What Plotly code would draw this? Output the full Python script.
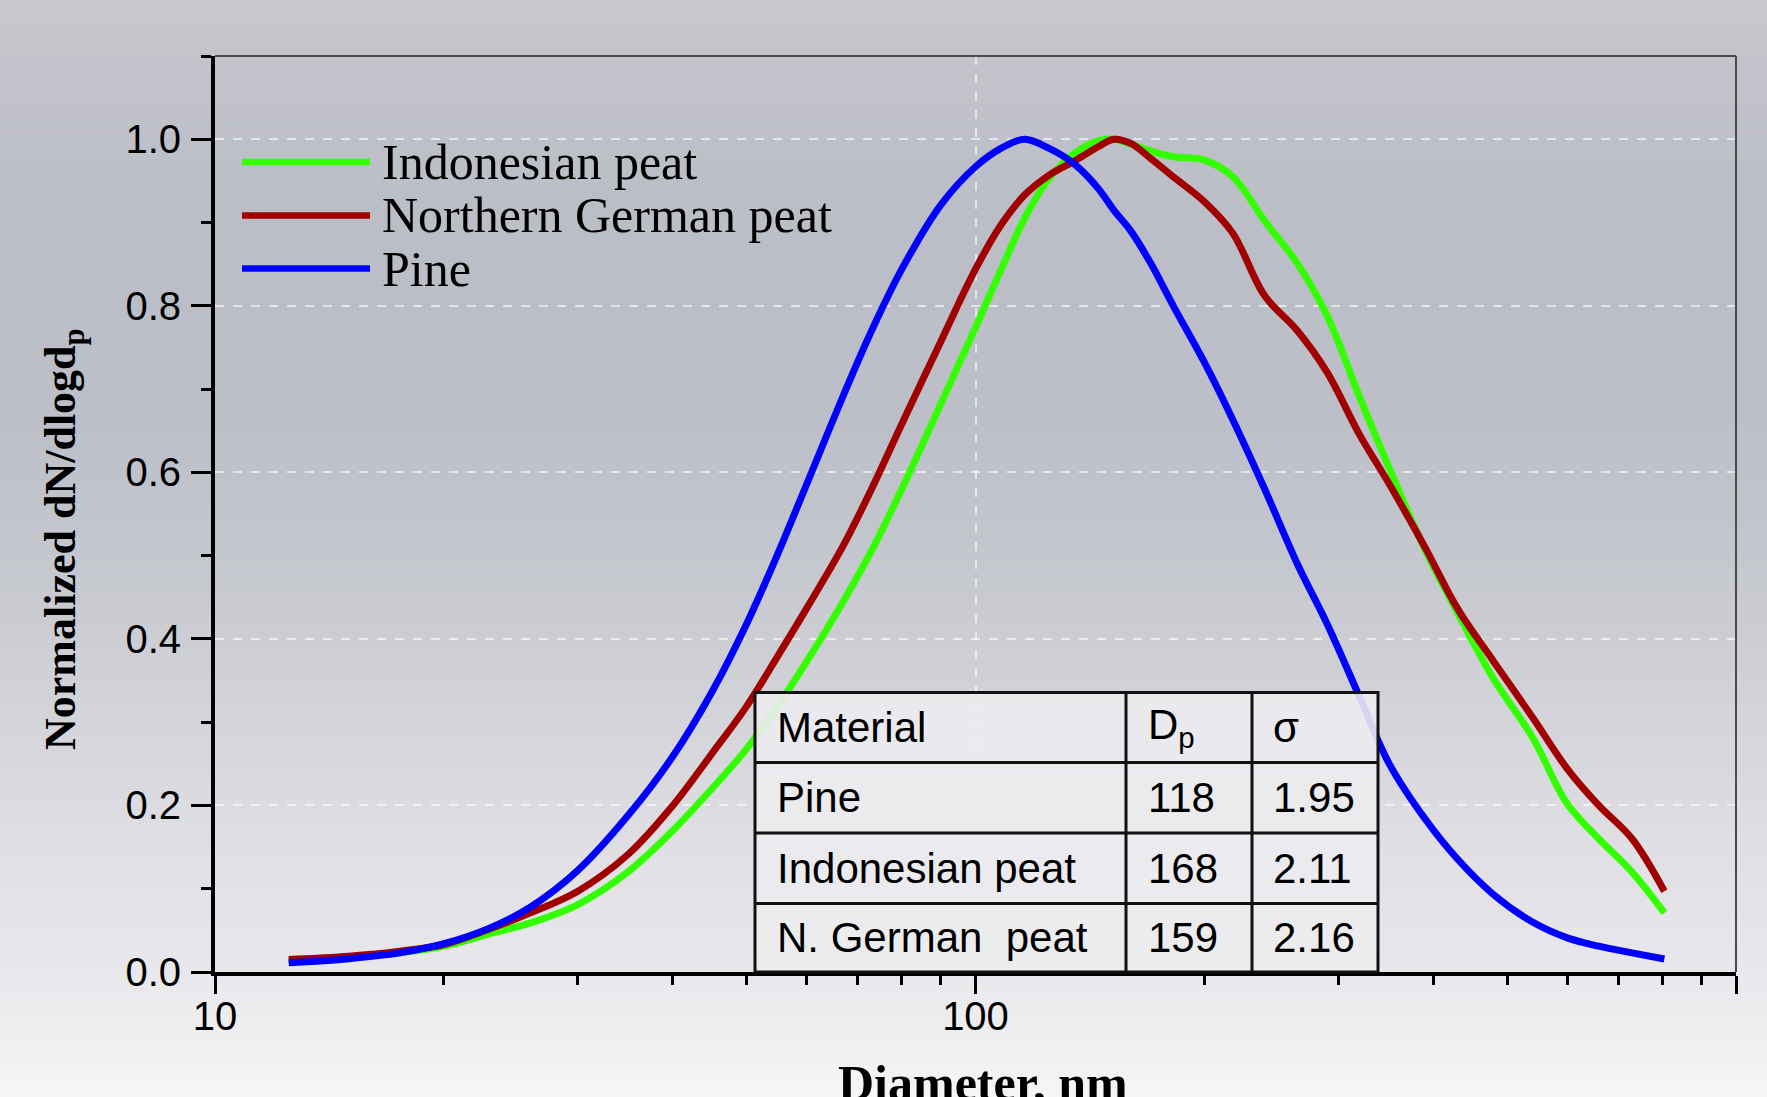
import base64
import struct
import zlib

import plotly.graph_objects as go

# ---------------------------------------------------------------------------
# Size distributions (normalized dN/dlogDp) on a common diameter grid
# ---------------------------------------------------------------------------
diameter_nm = [12.5, 15, 17.5, 20, 23, 26, 30, 35, 40, 45,
               50, 55, 60, 67, 73, 80, 90, 100, 108, 116,
               125, 135, 145, 152, 160, 170, 182, 200, 218, 240,
               265, 290, 320, 350, 390, 430, 480, 540, 600, 660,
               730, 805]

indonesian_peat = [0.015, 0.018, 0.023, 0.031, 0.046, 0.059, 0.081, 0.121, 0.170, 0.220,
                   0.268, 0.320, 0.373, 0.445, 0.506, 0.580, 0.682, 0.774, 0.843, 0.905,
                   0.953, 0.983, 0.998, 1.000, 0.994, 0.986, 0.979, 0.975, 0.955, 0.902,
                   0.851, 0.788, 0.690, 0.605, 0.507, 0.432, 0.352, 0.282, 0.202, 0.160,
                   0.120, 0.071]

northern_german_peat = [0.015, 0.019, 0.025, 0.033, 0.052, 0.071, 0.097, 0.142, 0.200, 0.262,
                        0.319, 0.380, 0.437, 0.512, 0.580, 0.658, 0.757, 0.844, 0.897, 0.933,
                        0.957, 0.974, 0.991, 1.000, 0.995, 0.977, 0.955, 0.925, 0.887, 0.812,
                        0.770, 0.720, 0.645, 0.586, 0.510, 0.437, 0.373, 0.306, 0.244, 0.200,
                        0.160, 0.097]

pine = [0.011, 0.016, 0.023, 0.034, 0.053, 0.078, 0.122, 0.189, 0.259, 0.336,
        0.418, 0.503, 0.586, 0.692, 0.770, 0.844, 0.921, 0.967, 0.989, 1.000,
        0.989, 0.970, 0.941, 0.915, 0.890, 0.851, 0.800, 0.732, 0.663, 0.580,
        0.490, 0.418, 0.330, 0.250, 0.184, 0.136, 0.093, 0.060, 0.041, 0.031,
        0.023, 0.0156]

series_names = ["Indonesian peat", "Northern German peat", "Pine"]
series_colors = ["#33ff00", "#a00000", "#0000ff"]

# axis ticks
x_tick_values = [10, 100, 1000]
x_tick_labels = ["10", "100", "1000"]
x_minor_values = [20, 30, 40, 50, 60, 70, 80, 90, 200, 300, 400, 500, 600, 700, 800, 900]
y_minor_values = [0.1, 0.3, 0.5, 0.7, 0.9, 1.1]

# fitted parameters table
table_header = ["Material", "D<sub>p</sub>", "σ"]
table_material = ["Pine", "Indonesian peat", "N. German\u00a0 peat"]
table_dp = ["118", "168", "159"]
table_sigma = ["1.95", "2.11", "2.16"]

# ---------------------------------------------------------------------------
# Page geometry (pixels)
# ---------------------------------------------------------------------------
W, H = 1767, 1097
ML, MR, MT, MB = 215, 31, 56, 125
PW, PH = W - ML - MR, H - MT - MB


def px(x):
    """pixel column -> paper x"""
    return (x - ML) / PW


def py(y):
    """pixel row -> paper y"""
    return (H - MB - y) / PH


# ---------------------------------------------------------------------------
# Soft grey backdrop, rendered as a small vertical-gradient PNG
# ---------------------------------------------------------------------------
def gradient_png(stops, height, width=4):
    rows = []
    for j in range(height):
        y = j * (H - 1) / (height - 1)
        for k in range(len(stops) - 1):
            y0, c0 = stops[k]
            y1, c1 = stops[k + 1]
            if y0 <= y <= y1:
                t = (y - y0) / (y1 - y0)
                c = [int(round(a + (b - a) * t)) for a, b in zip(c0, c1)]
                break
        rows.append(b"\x00" + bytes(c) * width)
    raw = b"".join(rows)

    def chunk(tag, data):
        return (struct.pack(">I", len(data)) + tag + data
                + struct.pack(">I", zlib.crc32(tag + data) & 0xFFFFFFFF))

    png = b"\x89PNG\r\n\x1a\n"
    png += chunk(b"IHDR", struct.pack(">IIBBBBB", width, height, 8, 2, 0, 0, 0))
    png += chunk(b"IDAT", zlib.compress(raw, 9))
    png += chunk(b"IEND", b"")
    return "data:image/png;base64," + base64.b64encode(png).decode()


backdrop = gradient_png([
    (0, (202, 201, 207)),
    (60, (195, 195, 203)),
    (200, (187, 190, 199)),
    (420, (188, 191, 200)),
    (560, (197, 199, 206)),
    (700, (210, 211, 216)),
    (850, (223, 223, 228)),
    (970, (232, 232, 236)),
    (1050, (240, 240, 242)),
    (1096, (246, 246, 247)),
], height=H)

# ---------------------------------------------------------------------------
# Figure
# ---------------------------------------------------------------------------
fig = go.Figure()
for name, values, color in zip(series_names,
                               [indonesian_peat, northern_german_peat, pine],
                               series_colors):
    fig.add_trace(go.Scatter(
        x=diameter_nm, y=values, name=name, mode="lines",
        line=dict(color=color, width=7, shape="spline", smoothing=1.0),
        showlegend=False, hoverinfo="x+y+name",
    ))

fig.update_layout(
    width=W, height=H,
    margin=dict(l=ML, r=MR, t=MT, b=MB, pad=0),
    paper_bgcolor="#e4e4e8",
    plot_bgcolor="rgba(0,0,0,0)",
    showlegend=False,
    font=dict(family="Liberation Sans, Arial, sans-serif", size=40, color="black"),
    images=[dict(
        source=backdrop, xref="paper", yref="paper",
        x=px(0), y=py(0), sizex=W / PW, sizey=H / PH,
        xanchor="left", yanchor="top", sizing="stretch", layer="below",
    )],
)

grid_style = dict(showgrid=True, gridcolor="rgba(255,255,255,0.6)",
                  griddash="dash", gridwidth=1.5)

fig.update_xaxes(
    type="log", range=[1, 3],
    tickmode="array", tickvals=x_tick_values, ticktext=x_tick_labels,
    ticks="outside", ticklen=18, tickwidth=3, tickcolor="black",
    tickfont=dict(size=40), ticklabelstandoff=-12,
    showline=True, linewidth=4, linecolor="black", mirror=False,
    zeroline=False,
    minor=dict(tickmode="array", tickvals=x_minor_values, ticks="outside",
               ticklen=9, tickwidth=3, tickcolor="black", showgrid=False),
    **grid_style,
)

fig.update_yaxes(
    range=[0, 1.1], tickmode="linear", tick0=0, dtick=0.2, tickformat=".1f",
    ticks="outside", ticklen=20, tickwidth=3, tickcolor="black",
    tickfont=dict(size=40), ticklabelstandoff=2,
    showline=True, linewidth=4, linecolor="black", mirror=False,
    zeroline=False,
    minor=dict(tickmode="array", tickvals=y_minor_values, ticks="outside",
               ticklen=10, tickwidth=3, tickcolor="black", showgrid=False),
    **grid_style,
)

shapes = []
annotations = []

# thin frame on the top and right sides
for x0, y0, x1, y1 in [(0, 1, 1, 1), (1, 0, 1, 1)]:
    shapes.append(dict(type="line", xref="paper", yref="paper",
                       x0=x0, y0=y0, x1=x1, y1=y1,
                       line=dict(color="#4a4a4a", width=2), layer="above"))

# legend: coloured sample line + serif label
legend_rows_px = [162, 215.5, 268.5]
for name, color, ry in zip(series_names, series_colors, legend_rows_px):
    shapes.append(dict(type="line", xref="paper", yref="paper",
                       x0=px(242), x1=px(370), y0=py(ry), y1=py(ry),
                       line=dict(color=color, width=6.5), layer="above"))
    annotations.append(dict(text=name, xref="paper", yref="paper",
                            x=px(380), y=py(ry), xanchor="left", yanchor="middle",
                            showarrow=False,
                            font=dict(family="Liberation Serif, Times New Roman, serif",
                                      size=50, color="black")))

# parameter table
col_edges = [755, 1126, 1252, 1378]
row_edges = [692.5, 762.5, 833, 903.5, 972]
shapes.append(dict(type="rect", xref="paper", yref="paper",
                   x0=px(col_edges[0]), x1=px(col_edges[-1]),
                   y0=py(row_edges[-1]), y1=py(row_edges[0]),
                   fillcolor="rgba(236,236,239,0.9)",
                   line=dict(color="#111111", width=3), layer="above"))
for cx in col_edges[1:-1]:
    shapes.append(dict(type="line", xref="paper", yref="paper",
                       x0=px(cx), x1=px(cx), y0=py(row_edges[-1]), y1=py(row_edges[0]),
                       line=dict(color="#111111", width=3), layer="above"))
for ry in row_edges[1:-1]:
    shapes.append(dict(type="line", xref="paper", yref="paper",
                       x0=px(col_edges[0]), x1=px(col_edges[-1]), y0=py(ry), y1=py(ry),
                       line=dict(color="#111111", width=3), layer="above"))

text_cols = [775, 1146, 1271]
table_rows = [table_header] + [list(r) for r in zip(table_material, table_dp, table_sigma)]
for i, row in enumerate(table_rows):
    cy = (row_edges[i] + row_edges[i + 1]) / 2
    for cx, txt in zip(text_cols, row):
        annotations.append(dict(text=txt, xref="paper", yref="paper",
                                x=px(cx), y=py(cy), xanchor="left", yanchor="middle",
                                showarrow=False,
                                font=dict(family="Liberation Sans, Arial, sans-serif",
                                          size=42, color="black")))

# axis titles
annotations.append(dict(text="<b>Diameter, nm</b>", xref="paper", yref="paper",
                        x=px(983), y=py(1083), xanchor="center", yanchor="middle",
                        showarrow=False,
                        font=dict(family="Liberation Serif, Times New Roman, serif",
                                  size=50, color="black")))
annotations.append(dict(text="<b>Normalized dN/dlogd<sub>p</sub></b>",
                        xref="paper", yref="paper",
                        x=px(63), y=py(539), xanchor="center", yanchor="middle",
                        textangle=-90, showarrow=False,
                        font=dict(family="Liberation Serif, Times New Roman, serif",
                                  size=44, color="black")))

fig.update_layout(shapes=shapes, annotations=annotations)

fig.write_html("out.html")
